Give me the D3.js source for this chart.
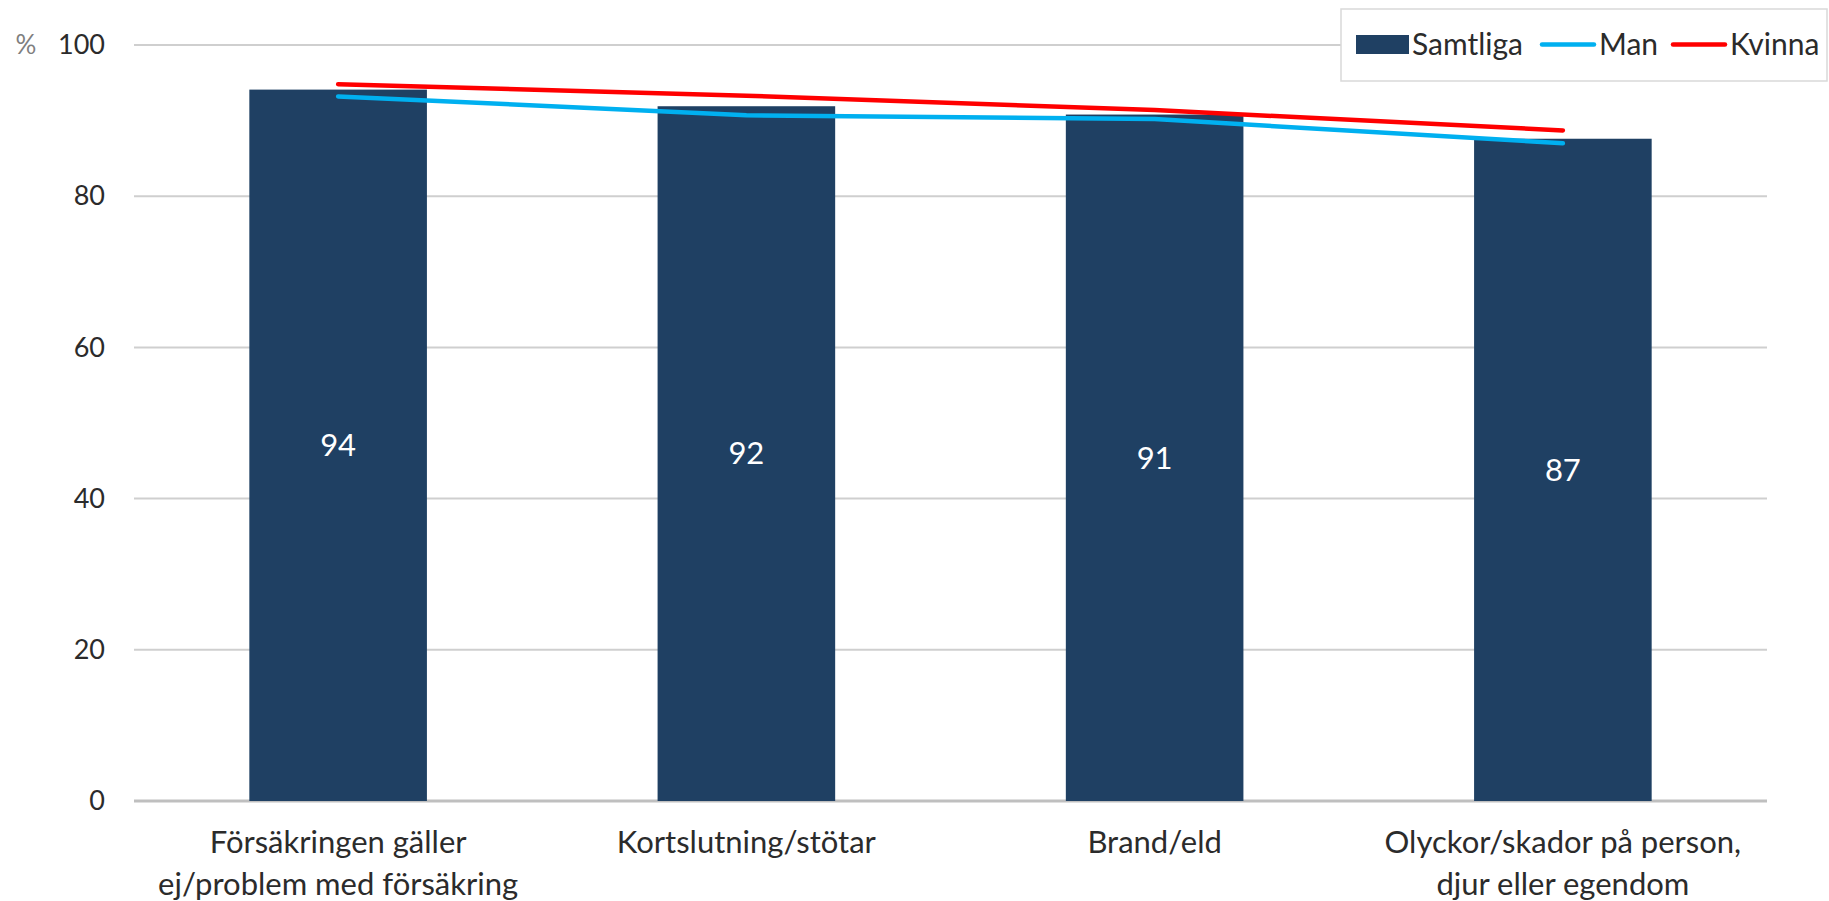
<!DOCTYPE html>
<html><head><meta charset="utf-8">
<script src="https://cdn.jsdelivr.net/npm/d3@7"></script>
<style>body{margin:0;background:#fff}svg{display:block}text{font-family:Lato,"Open Sans",sans-serif}</style>
</head><body><svg id="c" width="1829" height="901"></svg>
<script>
const categories = [["Försäkringen gäller","ej/problem med försäkring"],["Kortslutning/stötar"],["Brand/eld"],["Olyckor/skador på person,","djur eller egendom"]];
const samtliga = [94.1, 91.9, 90.8, 87.6];
const samtligaLabels = ["94","92","91","87"];
const man = [93.2, 90.7, 90.2, 87.0];
const kvinna = [94.8, 93.3, 91.4, 88.7];
const yTicks = [0,20,40,60,80,100];

(function(){
const svg = d3.select("#c");
const mL = 134, mR = 1767, mT = 45, mB = 801;
const x = d3.scaleBand().domain(d3.range(categories.length)).range([mL,mR]).paddingInner(0.565).paddingOuter(0.2825);
const y = d3.scaleLinear().domain([0,100]).range([mB,mT]);

// gridlines
svg.append("g").selectAll("line").data(yTicks).join("line")
  .attr("x1",mL).attr("x2",mR).attr("y1",d=>y(d)).attr("y2",d=>y(d))
  .attr("stroke",d=>d===0?"#bfbfbf":"#cfcfcf").attr("stroke-width",d=>d===0?3:2);

// y axis labels
const ya = d3.axisLeft(y).tickValues(yTicks).tickSize(0).tickPadding(0);
const yg = svg.append("g").attr("transform",`translate(105,0)`).call(ya);
yg.select(".domain").remove();
yg.selectAll("text").attr("font-size",27).attr("fill","#2b2b2b").attr("font-family","Lato, sans-serif");
svg.append("text").attr("x",26).attr("y",y(100)).attr("dy","0.35em").attr("text-anchor","middle")
  .attr("font-size",26).attr("fill","#7f7f7f").text("%");

// bars
svg.append("g").selectAll("rect").data(samtliga).join("rect")
  .attr("x",(d,i)=>x(i)).attr("width",x.bandwidth()).attr("y",d=>y(d)).attr("height",d=>y(0)-y(d))
  .attr("fill","#1f4063");
svg.append("g").selectAll("text").data(samtliga).join("text")
  .attr("x",(d,i)=>x(i)+x.bandwidth()/2).attr("y",d=>(y(d)+y(0))/2).attr("dy","0.35em")
  .attr("text-anchor","middle").attr("font-size",31).attr("fill","#fff").text((d,i)=>samtligaLabels[i]);

// lines
const line = d3.line().x((d,i)=>x(i)+x.bandwidth()/2).y(d=>y(d));
svg.append("path").datum(man).attr("d",line).attr("fill","none").attr("stroke","#00b0f0").attr("stroke-width",4.5).attr("stroke-linecap","round").attr("stroke-linejoin","round");
svg.append("path").datum(kvinna).attr("d",line).attr("fill","none").attr("stroke","#ff0000").attr("stroke-width",4.5).attr("stroke-linecap","round").attr("stroke-linejoin","round");

// x labels
const xl = svg.append("g").selectAll("text").data(categories).join("text")
  .attr("x",(d,i)=>x(i)+x.bandwidth()/2).attr("y",842).attr("text-anchor","middle")
  .attr("font-size",31).attr("fill","#2b2b2b");
xl.selectAll("tspan").data(d=>d).join("tspan")
  .attr("x",function(){return this.parentNode.getAttribute("x");})
  .attr("dy",(d,i)=>i===0?"0.35em":"1.37em").text(d=>d);

// legend
const lg = svg.append("g");
lg.append("rect").attr("x",1341).attr("y",9).attr("width",486).attr("height",72).attr("fill","#fff").attr("stroke","#d9d9d9").attr("stroke-width",1.5);
const ly = 44.5;
lg.append("rect").attr("x",1356).attr("y",35).attr("width",53).attr("height",19).attr("fill","#1f4063");
lg.append("text").attr("x",1412).attr("y",ly).attr("dy","0.35em").attr("font-size",30).attr("fill","#2b2b2b").text("Samtliga");
lg.append("line").attr("x1",1542).attr("x2",1594).attr("y1",ly).attr("y2",ly).attr("stroke","#00b0f0").attr("stroke-width",4.5).attr("stroke-linecap","round");
lg.append("text").attr("x",1599).attr("y",ly).attr("dy","0.35em").attr("font-size",30).attr("fill","#2b2b2b").text("Man");
lg.append("line").attr("x1",1673).attr("x2",1725).attr("y1",ly).attr("y2",ly).attr("stroke","#ff0000").attr("stroke-width",4.5).attr("stroke-linecap","round");
lg.append("text").attr("x",1730).attr("y",ly).attr("dy","0.35em").attr("font-size",30).attr("fill","#2b2b2b").text("Kvinna");
})();
</script></body></html>
